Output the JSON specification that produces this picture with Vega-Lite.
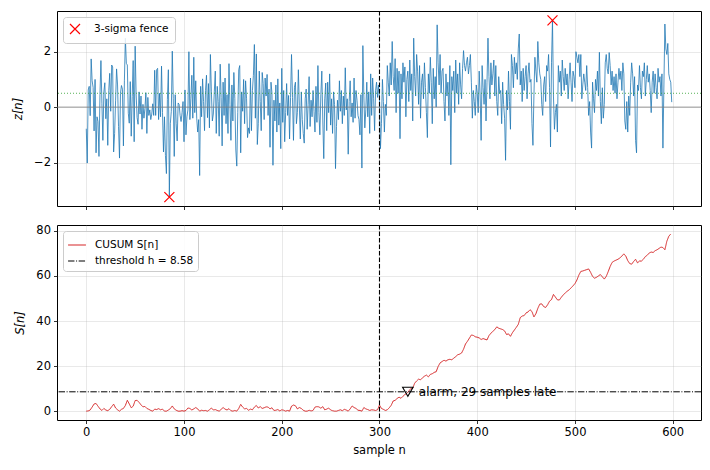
{
"$schema":"https://vega.github.io/schema/vega-lite/v6.json",
"padding":{"left":12,"top":9,"right":9,"bottom":8},
"spacing":19,
"bounds":"flush",
"resolve":{"scale":{"color":"independent","strokeDash":"independent"},"legend":{"color":"independent","strokeDash":"independent"}},
"config":{"font":"DejaVu Sans","view":{"stroke":"black","strokeWidth":1},
"axis":{"domain":false,"grid":true,"gridColor":"#b0b0b0","gridOpacity":0.35,"gridWidth":0.8,"tickColor":"black","tickSize":3.5,"tickWidth":0.8,"labelFontSize":11.5,"labelColor":"black","labelPadding":3,"titleFontSize":11.5,"titleFontWeight":"normal","titleColor":"black"},
"legend":{"orient":"top-left","offset":6,"fillColor":"rgba(255,255,255,0.85)","strokeColor":"#cccccc","cornerRadius":3,"padding":5,"labelFontSize":10.5,"labelColor":"black","title":null}},
"datasets":{
"z":[{"n":0,"z":-0.78},{"n":1,"z":-2.02},{"n":2,"z":0.62},{"n":3,"z":0.75},{"n":4,"z":-0.31},{"n":5,"z":1.74},{"n":6,"z":0.95},{"n":7,"z":0.71},{"n":8,"z":-0.86},{"n":9,"z":1.0},
{"n":10,"z":-1.65},{"n":11,"z":-0.35},{"n":12,"z":-0.52},{"n":13,"z":-1.78},{"n":14,"z":0.45},{"n":15,"z":1.68},{"n":16,"z":0.12},{"n":17,"z":-1.2},{"n":18,"z":0.55},{"n":19,"z":0.88},
{"n":20,"z":-0.42},{"n":21,"z":0.3},{"n":22,"z":-1.38},{"n":23,"z":0.6},{"n":24,"z":1.22},{"n":25,"z":-0.15},{"n":26,"z":1.52},{"n":27,"z":1.45},{"n":28,"z":-1.62},{"n":29,"z":-0.95},
{"n":30,"z":0.25},{"n":31,"z":1.38},{"n":32,"z":0.8},{"n":33,"z":-0.7},{"n":34,"z":-1.84},{"n":35,"z":0.5},{"n":36,"z":0.78},{"n":37,"z":0.65},{"n":38,"z":-1.4},{"n":39,"z":0.95},
{"n":40,"z":2.49},{"n":41,"z":1.58},{"n":42,"z":1.52},{"n":43,"z":-0.22},{"n":44,"z":-0.58},{"n":45,"z":0.92},{"n":46,"z":-1.05},{"n":47,"z":0.38},{"n":48,"z":1.68},{"n":49,"z":-1.25},
{"n":50,"z":2.2},{"n":51,"z":0.48},{"n":52,"z":-0.38},{"n":53,"z":-0.62},{"n":54,"z":0.55},{"n":55,"z":-0.25},{"n":56,"z":0.4},{"n":57,"z":-0.8},{"n":58,"z":0.1},{"n":59,"z":-0.4},
{"n":60,"z":-0.05},{"n":61,"z":0.52},{"n":62,"z":-0.95},{"n":63,"z":0.35},{"n":64,"z":-0.3},{"n":65,"z":-0.1},{"n":66,"z":-0.45},{"n":67,"z":-0.25},{"n":68,"z":0.12},{"n":69,"z":-0.3},
{"n":70,"z":1.33},{"n":71,"z":-0.3},{"n":72,"z":1.35},{"n":73,"z":1.4},{"n":74,"z":-0.45},{"n":75,"z":0.5},{"n":76,"z":-0.35},{"n":77,"z":1.48},{"n":78,"z":-0.2},{"n":79,"z":-1.62},
{"n":80,"z":-0.35},{"n":81,"z":-1.75},{"n":82,"z":-2.4},{"n":83,"z":0.28},{"n":84,"z":1.35},{"n":85,"z":-3.25},{"n":86,"z":-0.6},{"n":87,"z":-0.15},{"n":88,"z":2.02},{"n":89,"z":0.3},
{"n":90,"z":-1.78},{"n":91,"z":0.45},{"n":92,"z":-0.6},{"n":93,"z":-1.22},{"n":94,"z":0.15},{"n":95,"z":0.1},{"n":96,"z":-0.3},{"n":97,"z":-0.52},{"n":98,"z":-0.2},{"n":99,"z":0.2},
{"n":100,"z":-1.25},{"n":101,"z":0.62},{"n":102,"z":-1.0},{"n":103,"z":-0.35},{"n":104,"z":-0.1},{"n":105,"z":2.0},{"n":106,"z":-0.45},{"n":107,"z":0.3},{"n":108,"z":1.15},{"n":109,"z":-0.4},
{"n":110,"z":1.8},{"n":111,"z":-0.2},{"n":112,"z":0.95},{"n":113,"z":-0.4},{"n":114,"z":-0.9},{"n":115,"z":-0.45},{"n":116,"z":-2.47},{"n":117,"z":0.75},{"n":118,"z":-0.35},{"n":119,"z":1.02},
{"n":120,"z":0.2},{"n":121,"z":-0.85},{"n":122,"z":0.6},{"n":123,"z":1.15},{"n":124,"z":-0.38},{"n":125,"z":0.85},{"n":126,"z":-0.75},{"n":127,"z":1.9},{"n":128,"z":0.55},{"n":129,"z":-0.5},
{"n":130,"z":-0.25},{"n":131,"z":0.55},{"n":132,"z":1.3},{"n":133,"z":-0.95},{"n":134,"z":0.75},{"n":135,"z":0.2},{"n":136,"z":-1.05},{"n":137,"z":1.55},{"n":138,"z":0.35},{"n":139,"z":-1.4},
{"n":140,"z":0.9},{"n":141,"z":-0.3},{"n":142,"z":1.05},{"n":143,"z":-0.6},{"n":144,"z":0.45},{"n":145,"z":-0.95},{"n":146,"z":1.57},{"n":147,"z":0.1},{"n":148,"z":-1.2},{"n":149,"z":0.8},
{"n":150,"z":-0.5},{"n":151,"z":1.25},{"n":152,"z":0.3},{"n":153,"z":-1.55},{"n":154,"z":-2.13},{"n":155,"z":-0.2},{"n":156,"z":1.35},{"n":157,"z":1.5},{"n":158,"z":-1.65},{"n":159,"z":0.55},
{"n":160,"z":-0.15},{"n":161,"z":1.0},{"n":162,"z":-0.6},{"n":163,"z":0.95},{"n":164,"z":0.3},{"n":165,"z":-1.1},{"n":166,"z":-0.75},{"n":167,"z":-0.95},{"n":168,"z":1.05},{"n":169,"z":-0.85},
{"n":170,"z":0.6},{"n":171,"z":1.15},{"n":172,"z":2.26},{"n":173,"z":-0.4},{"n":174,"z":1.92},{"n":175,"z":-1.35},{"n":176,"z":-0.6},{"n":177,"z":1.3},{"n":178,"z":0.2},{"n":179,"z":-0.85},
{"n":180,"z":1.25},{"n":181,"z":0.85},{"n":182,"z":-0.45},{"n":183,"z":1.05},{"n":184,"z":0.4},{"n":185,"z":1.18},{"n":186,"z":-0.3},{"n":187,"z":0.65},{"n":188,"z":-1.45},{"n":189,"z":0.9},
{"n":190,"z":0.5},{"n":191,"z":-2.1},{"n":192,"z":0.25},{"n":193,"z":-0.5},{"n":194,"z":0.8},{"n":195,"z":-0.9},{"n":196,"z":1.02},{"n":197,"z":-0.65},{"n":198,"z":0.15},{"n":199,"z":-1.5},
{"n":200,"z":1.4},{"n":201,"z":-0.55},{"n":202,"z":0.6},{"n":203,"z":-1.25},{"n":204,"z":-0.2},{"n":205,"z":0.85},{"n":206,"z":-0.3},{"n":207,"z":0.42},{"n":208,"z":-1.15},{"n":209,"z":0.35},
{"n":210,"z":1.9},{"n":211,"z":0.35},{"n":212,"z":-1.2},{"n":213,"z":0.72},{"n":214,"z":0.9},{"n":215,"z":-0.6},{"n":216,"z":-0.2},{"n":217,"z":1.35},{"n":218,"z":0.05},{"n":219,"z":-1.15},
{"n":220,"z":0.55},{"n":221,"z":-0.45},{"n":222,"z":-0.95},{"n":223,"z":-1.3},{"n":224,"z":0.3},{"n":225,"z":0.65},{"n":226,"z":-0.8},{"n":227,"z":0.1},{"n":228,"z":1.1},{"n":229,"z":-0.7},
{"n":230,"z":0.25},{"n":231,"z":-0.35},{"n":232,"z":0.6},{"n":233,"z":-0.15},{"n":234,"z":-0.9},{"n":235,"z":0.75},{"n":236,"z":-0.55},{"n":237,"z":1.5},{"n":238,"z":-0.2},{"n":239,"z":-1.0},
{"n":240,"z":0.45},{"n":241,"z":1.3},{"n":242,"z":-0.5},{"n":243,"z":-1.86},{"n":244,"z":0.3},{"n":245,"z":0.87},{"n":246,"z":-0.85},{"n":247,"z":0.9},{"n":248,"z":-0.2},{"n":249,"z":1.2},
{"n":250,"z":-0.65},{"n":251,"z":0.3},{"n":252,"z":-0.95},{"n":253,"z":0.55},{"n":254,"z":0.1},{"n":255,"z":-2.22},{"n":256,"z":-0.7},{"n":257,"z":0.25},{"n":258,"z":-0.45},{"n":259,"z":0.95},
{"n":260,"z":-0.15},{"n":261,"z":0.6},{"n":262,"z":-0.6},{"n":263,"z":0.4},{"n":264,"z":-0.3},{"n":265,"z":1.42},{"n":266,"z":-0.1},{"n":267,"z":0.3},{"n":268,"z":-1.7},{"n":269,"z":0.2},
{"n":270,"z":0.95},{"n":271,"z":-0.35},{"n":272,"z":0.15},{"n":273,"z":-0.55},{"n":274,"z":1.05},{"n":275,"z":-0.4},{"n":276,"z":0.6},{"n":277,"z":0.25},{"n":278,"z":-0.3},{"n":279,"z":-0.45},
{"n":280,"z":-1.0},{"n":281,"z":0.45},{"n":282,"z":-2.2},{"n":283,"z":2.22},{"n":284,"z":0.4},{"n":285,"z":-0.75},{"n":286,"z":-0.1},{"n":287,"z":0.9},{"n":288,"z":-0.35},{"n":289,"z":0.55},
{"n":290,"z":-0.95},{"n":291,"z":1.2},{"n":292,"z":-0.3},{"n":293,"z":1.05},{"n":294,"z":0.3},{"n":295,"z":-0.85},{"n":296,"z":0.6},{"n":297,"z":0.9},{"n":298,"z":0.35},{"n":299,"z":0.8},
{"n":300,"z":0.3},{"n":301,"z":-1.5},{"n":302,"z":-0.6},{"n":303,"z":1.0},{"n":304,"z":0.2},{"n":305,"z":-0.9},{"n":306,"z":0.1},{"n":307,"z":-0.3},{"n":308,"z":1.5},{"n":309,"z":0.9},
{"n":310,"z":0.4},{"n":311,"z":1.6},{"n":312,"z":0.8},{"n":313,"z":2.37},{"n":314,"z":1.1},{"n":315,"z":0.6},{"n":316,"z":1.75},{"n":317,"z":-0.2},{"n":318,"z":1.4},{"n":319,"z":0.5},
{"n":320,"z":1.3},{"n":321,"z":-1.14},{"n":322,"z":1.2},{"n":323,"z":0.3},{"n":324,"z":1.6},{"n":325,"z":0.9},{"n":326,"z":1.45},{"n":327,"z":-0.35},{"n":328,"z":1.0},{"n":329,"z":1.3},
{"n":330,"z":0.2},{"n":331,"z":1.7},{"n":332,"z":0.6},{"n":333,"z":1.2},{"n":334,"z":-0.5},{"n":335,"z":2.49},{"n":336,"z":1.1},{"n":337,"z":0.4},{"n":338,"z":1.9},{"n":339,"z":1.3},
{"n":340,"z":0.1},{"n":341,"z":1.5},{"n":342,"z":-0.4},{"n":343,"z":0.9},{"n":344,"z":1.2},{"n":345,"z":0.3},{"n":346,"z":1.6},{"n":347,"z":0.7},{"n":348,"z":-0.2},{"n":349,"z":-1.1},
{"n":350,"z":1.2},{"n":351,"z":0.5},{"n":352,"z":1.8},{"n":353,"z":0.9},{"n":354,"z":-0.6},{"n":355,"z":1.4},{"n":356,"z":0.3},{"n":357,"z":1.1},{"n":358,"z":0.0},{"n":359,"z":2.97},
{"n":360,"z":1.6},{"n":361,"z":0.8},{"n":362,"z":1.9},{"n":363,"z":0.5},{"n":364,"z":1.3},{"n":365,"z":1.4},{"n":366,"z":0.2},{"n":367,"z":-0.5},{"n":368,"z":1.2},{"n":369,"z":0.4},
{"n":370,"z":0.9},{"n":371,"z":-0.3},{"n":372,"z":1.5},{"n":373,"z":-2.08},{"n":374,"z":1.1},{"n":375,"z":0.6},{"n":376,"z":1.3},{"n":377,"z":-0.2},{"n":378,"z":1.7},{"n":379,"z":0.5},
{"n":380,"z":1.2},{"n":381,"z":0.1},{"n":382,"z":1.6},{"n":383,"z":0.8},{"n":384,"z":0.3},{"n":385,"z":1.4},{"n":386,"z":2.04},{"n":387,"z":1.5},{"n":388,"z":1.3},{"n":389,"z":1.6},
{"n":390,"z":1.8},{"n":391,"z":1.2},{"n":392,"z":1.5},{"n":393,"z":1.9},{"n":394,"z":0.9},{"n":395,"z":-0.4},{"n":396,"z":0.6},{"n":397,"z":0.2},{"n":398,"z":-0.3},{"n":399,"z":0.8},
{"n":400,"z":0.5},{"n":401,"z":-0.2},{"n":402,"z":1.3},{"n":403,"z":0.4},{"n":404,"z":-1.2},{"n":405,"z":1.5},{"n":406,"z":0.7},{"n":407,"z":0.1},{"n":408,"z":1.0},{"n":409,"z":-0.5},
{"n":410,"z":0.9},{"n":411,"z":2.49},{"n":412,"z":1.1},{"n":413,"z":0.3},{"n":414,"z":1.6},{"n":415,"z":0.8},{"n":416,"z":1.2},{"n":417,"z":1.7},{"n":418,"z":0.4},{"n":419,"z":1.5},
{"n":420,"z":0.2},{"n":421,"z":-0.3},{"n":422,"z":1.1},{"n":423,"z":0.5},{"n":424,"z":0.6},{"n":425,"z":-0.6},{"n":426,"z":0.9},{"n":427,"z":0.1},{"n":428,"z":-0.4},{"n":429,"z":-1.92},
{"n":430,"z":0.6},{"n":431,"z":-0.1},{"n":432,"z":1.3},{"n":433,"z":0.2},{"n":434,"z":-0.8},{"n":435,"z":1.9},{"n":436,"z":1.5},{"n":437,"z":0.7},{"n":438,"z":1.8},{"n":439,"z":1.2},
{"n":440,"z":1.6},{"n":441,"z":1.0},{"n":442,"z":2.1},{"n":443,"z":2.64},{"n":444,"z":0.8},{"n":445,"z":1.3},{"n":446,"z":0.2},{"n":447,"z":1.4},{"n":448,"z":0.6},{"n":449,"z":1.1},
{"n":450,"z":1.5},{"n":451,"z":0.3},{"n":452,"z":1.2},{"n":453,"z":1.6},{"n":454,"z":0.9},{"n":455,"z":1.0},{"n":456,"z":-0.6},{"n":457,"z":-1.38},{"n":458,"z":0.4},{"n":459,"z":1.8},
{"n":460,"z":1.3},{"n":461,"z":0.9},{"n":462,"z":2.37},{"n":463,"z":1.6},{"n":464,"z":1.2},{"n":465,"z":1.0},{"n":466,"z":0.1},{"n":467,"z":-0.3},{"n":468,"z":0.8},{"n":469,"z":1.1},
{"n":470,"z":0.2},{"n":471,"z":1.5},{"n":472,"z":1.3},{"n":473,"z":1.9},{"n":474,"z":0.7},{"n":475,"z":-1.44},{"n":476,"z":1.6},{"n":477,"z":3.13},{"n":478,"z":0.4},{"n":479,"z":-0.8},
{"n":480,"z":-0.2},{"n":481,"z":0.1},{"n":482,"z":-0.9},{"n":483,"z":1.5},{"n":484,"z":0.9},{"n":485,"z":1.3},{"n":486,"z":0.4},{"n":487,"z":1.7},{"n":488,"z":1.1},{"n":489,"z":0.6},
{"n":490,"z":1.4},{"n":491,"z":0.8},{"n":492,"z":1.2},{"n":493,"z":0.3},{"n":494,"z":1.0},{"n":495,"z":1.6},{"n":496,"z":0.9},{"n":497,"z":0.2},{"n":498,"z":1.3},{"n":499,"z":1.1},
{"n":500,"z":0.7},{"n":501,"z":2.0},{"n":502,"z":1.8},{"n":503,"z":1.6},{"n":504,"z":1.9},{"n":505,"z":1.1},{"n":506,"z":1.9},{"n":507,"z":0.3},{"n":508,"z":0.8},{"n":509,"z":1.2},
{"n":510,"z":0.9},{"n":511,"z":0.6},{"n":512,"z":1.5},{"n":513,"z":0.7},{"n":514,"z":-0.3},{"n":515,"z":0.2},{"n":516,"z":-0.9},{"n":517,"z":-1.48},{"n":518,"z":0.9},{"n":519,"z":0.3},
{"n":520,"z":-0.2},{"n":521,"z":1.0},{"n":522,"z":0.6},{"n":523,"z":1.3},{"n":524,"z":0.4},{"n":525,"z":1.98},{"n":526,"z":0.2},{"n":527,"z":-0.6},{"n":528,"z":0.7},{"n":529,"z":-0.4},
{"n":530,"z":0.1},{"n":531,"z":1.6},{"n":532,"z":1.9},{"n":533,"z":1.4},{"n":534,"z":1.2},{"n":535,"z":1.97},{"n":536,"z":1.5},{"n":537,"z":0.8},{"n":538,"z":1.3},{"n":539,"z":0.6},
{"n":540,"z":1.1},{"n":541,"z":0.5},{"n":542,"z":1.2},{"n":543,"z":0.3},{"n":544,"z":0.9},{"n":545,"z":1.4},{"n":546,"z":1.0},{"n":547,"z":1.3},{"n":548,"z":0.6},{"n":549,"z":1.6},
{"n":550,"z":1.2},{"n":551,"z":-0.5},{"n":552,"z":-0.8},{"n":553,"z":0.2},{"n":554,"z":-0.9},{"n":555,"z":0.4},{"n":556,"z":-0.3},{"n":557,"z":0.9},{"n":558,"z":1.6},{"n":559,"z":1.2},
{"n":560,"z":0.4},{"n":561,"z":1.1},{"n":562,"z":-1.2},{"n":563,"z":-1.65},{"n":564,"z":0.8},{"n":565,"z":0.6},{"n":566,"z":1.5},{"n":567,"z":0.7},{"n":568,"z":0.3},{"n":569,"z":1.3},
{"n":570,"z":1.1},{"n":571,"z":1.6},{"n":572,"z":0.4},{"n":573,"z":1.0},{"n":574,"z":1.5},{"n":575,"z":0.9},{"n":576,"z":1.2},{"n":577,"z":0.6},{"n":578,"z":-0.2},{"n":579,"z":0.9},
{"n":580,"z":1.3},{"n":581,"z":0.5},{"n":582,"z":1.2},{"n":583,"z":0.7},{"n":584,"z":0.3},{"n":585,"z":1.4},{"n":586,"z":0.9},{"n":587,"z":1.1},{"n":588,"z":0.4},{"n":589,"z":1.2},
{"n":590,"z":-1.48},{"n":591,"z":0.8},{"n":592,"z":3.0},{"n":593,"z":2.1},{"n":594,"z":1.9},{"n":595,"z":2.3},{"n":596,"z":1.2},{"n":597,"z":1.0},{"n":598,"z":0.9},{"n":599,"z":0.18}],
"s":[{"n":0,"s":0},{"n":2,"s":0.1},{"n":4,"s":0.5},{"n":6,"s":1.8},{"n":8,"s":3.2},{"n":10,"s":3.4},{"n":12,"s":2.2},{"n":14,"s":1.0},{"n":16,"s":0.3},{"n":18,"s":1.2},
{"n":20,"s":0.5},{"n":22,"s":0.2},{"n":24,"s":0.8},{"n":26,"s":2.0},{"n":28,"s":3.1},{"n":30,"s":1.4},{"n":32,"s":0.6},{"n":34,"s":0},{"n":36,"s":0.8},{"n":38,"s":1.2},
{"n":40,"s":2.5},{"n":42,"s":4.8},{"n":44,"s":3.2},{"n":46,"s":1.5},{"n":48,"s":2.2},{"n":50,"s":4.7},{"n":52,"s":4.8},{"n":54,"s":3.9},{"n":56,"s":2.8},{"n":58,"s":1.9},
{"n":60,"s":2.1},{"n":62,"s":1.2},{"n":64,"s":0.8},{"n":66,"s":0.3},{"n":68,"s":0},{"n":70,"s":0.9},{"n":72,"s":0.7},{"n":74,"s":1.1},{"n":76,"s":0.6},{"n":78,"s":0.9},
{"n":80,"s":0},{"n":82,"s":0},{"n":84,"s":0.5},{"n":86,"s":1.1},{"n":88,"s":2.3},{"n":90,"s":1.0},{"n":92,"s":0.4},{"n":94,"s":0},{"n":96,"s":0},{"n":98,"s":0.2},
{"n":100,"s":0},{"n":102,"s":0.3},{"n":104,"s":1.4},{"n":106,"s":1.2},{"n":108,"s":0.5},{"n":110,"s":1.0},{"n":112,"s":1.6},{"n":114,"s":1.0},{"n":116,"s":0},{"n":118,"s":0.4},
{"n":120,"s":0.2},{"n":122,"s":0.3},{"n":124,"s":0},{"n":126,"s":0.6},{"n":128,"s":1.4},{"n":130,"s":0.5},{"n":132,"s":0.7},{"n":134,"s":0.3},{"n":136,"s":0},{"n":138,"s":0.8},
{"n":140,"s":1.6},{"n":142,"s":0.9},{"n":144,"s":0.5},{"n":146,"s":1.1},{"n":148,"s":0.2},{"n":150,"s":0},{"n":152,"s":0.3},{"n":154,"s":0},{"n":156,"s":1.2},{"n":158,"s":3.0},
{"n":160,"s":1.8},{"n":162,"s":1.0},{"n":164,"s":1.2},{"n":166,"s":0.4},{"n":168,"s":0.9},{"n":170,"s":0.6},{"n":172,"s":1.8},{"n":174,"s":2.5},{"n":176,"s":1.4},{"n":178,"s":2.0},
{"n":180,"s":1.2},{"n":182,"s":1.5},{"n":184,"s":1.9},{"n":186,"s":1.8},{"n":188,"s":1.0},{"n":190,"s":1.5},{"n":192,"s":0.3},{"n":194,"s":0.4},{"n":196,"s":0.7},{"n":198,"s":0.1},
{"n":200,"s":0.6},{"n":202,"s":0.4},{"n":204,"s":0},{"n":206,"s":0.3},{"n":208,"s":0},{"n":210,"s":2.2},{"n":212,"s":2.7},{"n":214,"s":2.4},{"n":216,"s":1.0},{"n":218,"s":1.6},
{"n":220,"s":1.2},{"n":222,"s":0.4},{"n":224,"s":0},{"n":226,"s":0},{"n":228,"s":0.4},{"n":230,"s":0.1},{"n":232,"s":0.3},{"n":234,"s":1.8},{"n":236,"s":2.0},{"n":238,"s":1.9},
{"n":240,"s":1.3},{"n":242,"s":2.0},{"n":244,"s":0.6},{"n":246,"s":0.9},{"n":248,"s":1.4},{"n":250,"s":0.5},{"n":252,"s":0.2},{"n":254,"s":0},{"n":256,"s":0},{"n":258,"s":0.3},
{"n":260,"s":0.6},{"n":262,"s":0.2},{"n":264,"s":0.8},{"n":266,"s":0.5},{"n":268,"s":0},{"n":270,"s":1.0},{"n":272,"s":2.3},{"n":274,"s":1.6},{"n":276,"s":1.2},{"n":278,"s":0.4},
{"n":280,"s":0.3},{"n":282,"s":0},{"n":284,"s":1.6},{"n":286,"s":1.0},{"n":288,"s":0.7},{"n":290,"s":0.3},{"n":292,"s":0.6},{"n":294,"s":0.5},{"n":296,"s":0.3},{"n":298,"s":0.6},
{"n":300,"s":2.7},{"n":302,"s":1.2},{"n":304,"s":0.8},{"n":306,"s":0.3},{"n":308,"s":0.6},{"n":310,"s":1.5},{"n":312,"s":2.6},{"n":314,"s":4.5},{"n":316,"s":4.8},{"n":318,"s":5.6},
{"n":320,"s":6.2},{"n":322,"s":5.7},{"n":324,"s":6.6},{"n":326,"s":7.4},{"n":328,"s":7.9},{"n":330,"s":8.9},{"n":332,"s":10.0},{"n":334,"s":10.2},{"n":336,"s":12.4},{"n":338,"s":13.4},
{"n":340,"s":14.2},{"n":342,"s":13.9},{"n":344,"s":14.8},{"n":346,"s":15.5},{"n":348,"s":16.0},{"n":350,"s":15.2},{"n":352,"s":16.3},{"n":354,"s":16.6},{"n":356,"s":17.2},{"n":358,"s":17.5},
{"n":360,"s":19.8},{"n":362,"s":21.4},{"n":364,"s":22.0},{"n":366,"s":22.6},{"n":368,"s":22.2},{"n":370,"s":22.8},{"n":372,"s":23.0},{"n":374,"s":22.8},{"n":376,"s":23.5},{"n":378,"s":24.2},
{"n":380,"s":25.0},{"n":382,"s":25.3},{"n":384,"s":25.8},{"n":386,"s":27.5},{"n":388,"s":29.8},{"n":390,"s":31.0},{"n":392,"s":32.4},{"n":394,"s":33.8},{"n":396,"s":33.6},{"n":398,"s":33.0},
{"n":400,"s":32.8},{"n":402,"s":32.5},{"n":404,"s":31.8},{"n":406,"s":32.2},{"n":408,"s":31.9},{"n":410,"s":31.6},{"n":412,"s":33.5},{"n":414,"s":34.6},{"n":416,"s":35.4},{"n":418,"s":36.2},
{"n":420,"s":37.4},{"n":422,"s":36.8},{"n":424,"s":36.5},{"n":426,"s":36.2},{"n":428,"s":35.6},{"n":430,"s":34.0},{"n":432,"s":34.3},{"n":434,"s":33.2},{"n":436,"s":34.8},{"n":438,"s":36.0},
{"n":440,"s":37.2},{"n":442,"s":38.5},{"n":444,"s":41.5},{"n":446,"s":42.2},{"n":448,"s":42.4},{"n":450,"s":43.6},{"n":452,"s":44.0},{"n":454,"s":45.0},{"n":456,"s":44.2},{"n":458,"s":41.8},
{"n":460,"s":43.2},{"n":462,"s":45.6},{"n":464,"s":47.5},{"n":466,"s":47.6},{"n":468,"s":46.4},{"n":470,"s":46.0},{"n":472,"s":47.2},{"n":474,"s":48.8},{"n":476,"s":49.5},{"n":478,"s":51.8},
{"n":480,"s":50.6},{"n":482,"s":49.4},{"n":484,"s":49.3},{"n":486,"s":50.5},{"n":488,"s":51.6},{"n":490,"s":52.4},{"n":492,"s":53.2},{"n":494,"s":53.8},{"n":496,"s":54.7},{"n":498,"s":55.6},
{"n":500,"s":56.6},{"n":502,"s":58.2},{"n":504,"s":60.4},{"n":506,"s":62.0},{"n":508,"s":62.2},{"n":510,"s":62.5},{"n":512,"s":62.8},{"n":514,"s":63.1},{"n":516,"s":61.6},{"n":518,"s":59.8},
{"n":520,"s":59.0},{"n":522,"s":59.4},{"n":524,"s":60.0},{"n":526,"s":60.6},{"n":528,"s":59.6},{"n":530,"s":58.6},{"n":532,"s":59.8},{"n":534,"s":61.9},{"n":536,"s":64.2},{"n":538,"s":66.0},
{"n":540,"s":66.6},{"n":542,"s":67.0},{"n":544,"s":67.4},{"n":546,"s":68.0},{"n":548,"s":68.8},{"n":550,"s":69.8},{"n":552,"s":68.8},{"n":554,"s":66.8},{"n":556,"s":65.5},{"n":558,"s":65.2},
{"n":560,"s":66.4},{"n":562,"s":67.4},{"n":564,"s":65.8},{"n":566,"s":66.6},{"n":568,"s":66.6},{"n":570,"s":67.4},{"n":572,"s":68.6},{"n":574,"s":69.2},{"n":576,"s":70.2},{"n":578,"s":70.6},
{"n":580,"s":70.4},{"n":582,"s":71.2},{"n":584,"s":71.6},{"n":586,"s":72.2},{"n":588,"s":72.8},{"n":590,"s":72.6},{"n":592,"s":71.6},{"n":594,"s":75.4},{"n":596,"s":77.6},{"n":598,"s":78.6}]
},
"vconcat":[
{"width":644,"height":195,
"layer":[
{"data":{"name":"z"},"mark":{"type":"line","color":"#1f77b4","strokeWidth":0.8},
"encoding":{"x":{"field":"n","type":"quantitative","scale":{"domain":[-29.95,628.95],"nice":false,"zero":false},"axis":{"values":[0,100,200,300,400,500,600],"labels":false,"title":null}},
"y":{"field":"z","type":"quantitative","scale":{"domain":[-3.57,3.47],"nice":false,"zero":false},"axis":{"values":[-2,0,2],"title":"z[n]","titleFontStyle":"italic","titlePadding":10}}}},
{"data":{"values":[{"y":0}]},"mark":{"type":"rule","color":"#808080","strokeWidth":0.8},"encoding":{"y":{"field":"y","type":"quantitative"}}},
{"data":{"values":[{"y":0.5}]},"mark":{"type":"rule","color":"#2ca02c","strokeWidth":0.8,"strokeDash":[1,2]},"encoding":{"y":{"field":"y","type":"quantitative"}}},
{"data":{"values":[{"x":300}]},"mark":{"type":"rule","color":"black","strokeWidth":1.1,"strokeDash":[4.5,2]},"encoding":{"x":{"field":"x","type":"quantitative"}}},
{"data":{"values":[{"n":85,"z":-3.25,"label":"3-sigma fence"},{"n":477,"z":3.13,"label":"3-sigma fence"}]},
"mark":{"type":"point","shape":"M-1,-1L1,1M-1,1L1,-1","filled":false,"size":100,"strokeWidth":1.2,"opacity":1},
"encoding":{"x":{"field":"n","type":"quantitative"},"y":{"field":"z","type":"quantitative"},
"color":{"field":"label","type":"nominal","scale":{"domain":["3-sigma fence"],"range":["red"]},
"legend":{"symbolType":"M-1,-1L1,1M-1,1L1,-1","symbolSize":100,"symbolStrokeWidth":1.2,"symbolFillColor":"transparent","symbolStrokeColor":"red","labelOffset":13,"padding":6}}}}
]},
{"width":644,"height":195,
"resolve":{"legend":{"color":"shared","strokeDash":"shared"}},
"layer":[
{"data":{"name":"s"},"mark":{"type":"line","strokeWidth":1},
"encoding":{"x":{"field":"n","type":"quantitative","scale":{"domain":[-29.95,628.95],"nice":false,"zero":false},"axis":{"values":[0,100,200,300,400,500,600],"title":"sample n","titlePadding":6}},
"y":{"field":"s","type":"quantitative","scale":{"domain":[-3.93,82.6],"nice":false,"zero":false},"axis":{"values":[0,20,40,60,80],"title":"S[n]","titleFontStyle":"italic","titlePadding":10}},
"color":{"datum":"CUSUM S[n]","type":"nominal","scale":{"domain":["CUSUM S[n]","threshold h = 8.58"],"range":["#d62728","black"]},"legend":{"symbolType":"stroke","symbolSize":320,"symbolStrokeWidth":1.2,"rowPadding":0,"labelOffset":8,"padding":4}},
"strokeDash":{"datum":"CUSUM S[n]","type":"nominal","scale":{"domain":["CUSUM S[n]","threshold h = 8.58"],"range":[[1,0],[6.4,1.6,1,1.6]]},"legend":{"symbolType":"stroke","symbolSize":320,"symbolStrokeWidth":1.2,"rowPadding":0,"labelOffset":8,"padding":4}}}},
{"data":{"values":[{"h":8.58}]},"mark":{"type":"rule","strokeWidth":1},
"encoding":{"y":{"field":"h","type":"quantitative"},"color":{"datum":"threshold h = 8.58","type":"nominal"},"strokeDash":{"datum":"threshold h = 8.58","type":"nominal"}}},
{"data":{"values":[{"x":300}]},"mark":{"type":"rule","color":"black","strokeWidth":1.1,"strokeDash":[4.5,2]},"encoding":{"x":{"field":"x","type":"quantitative"}}},
{"data":{"values":[{"n":329,"s":8.58,"label":"alarm, 29 samples late"}]},"mark":{"type":"point","shape":"triangle-down","filled":false,"color":"black","size":110,"strokeWidth":1.1,"opacity":1},
"encoding":{"x":{"field":"n","type":"quantitative"},"y":{"field":"s","type":"quantitative"}}},
{"data":{"values":[{"n":329,"s":8.58,"label":"alarm, 29 samples late"}]},"mark":{"type":"text","align":"left","baseline":"middle","dx":11,"fontSize":12,"color":"black"},
"encoding":{"x":{"field":"n","type":"quantitative"},"y":{"field":"s","type":"quantitative"},"text":{"field":"label"}}}
]}
]
}
